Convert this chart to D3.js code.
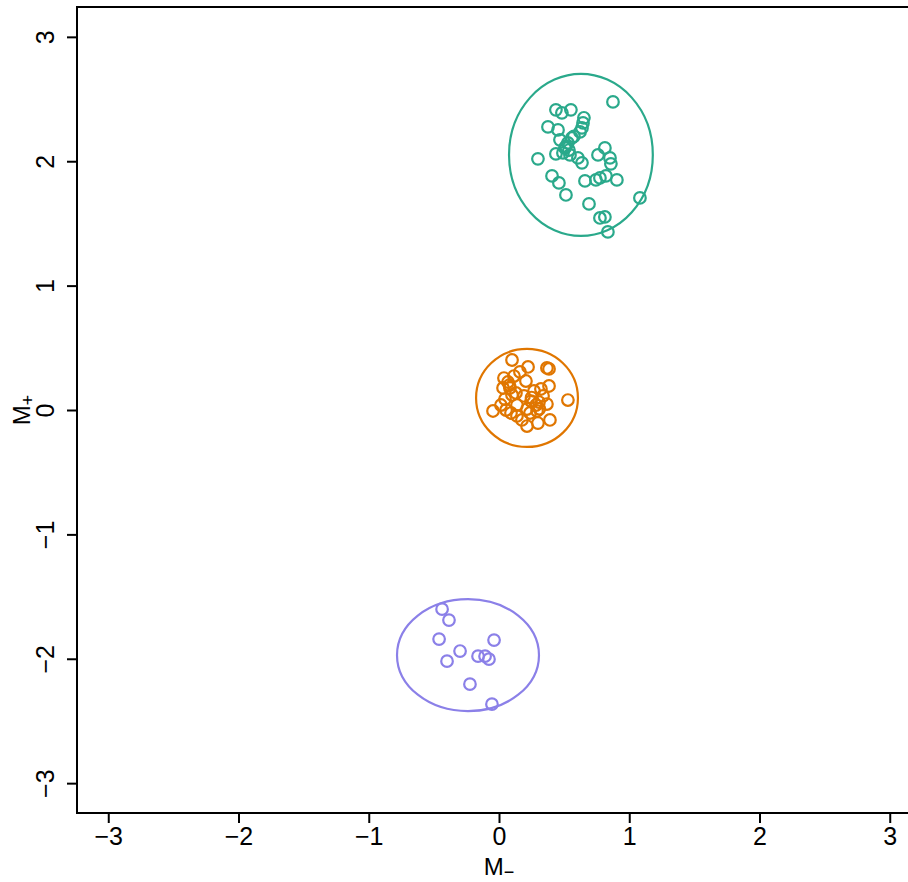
<!DOCTYPE html>
<html>
<head>
<meta charset="utf-8">
<script src="https://cdn.jsdelivr.net/npm/d3@7/dist/d3.min.js"></script>
<style>
  html, body { margin: 0; padding: 0; background: #fff; }
  svg { display: block; }
  text { font-family: "Liberation Sans", Arial, Helvetica, sans-serif; }
</style>
</head>
<body>
<svg id="chart" width="908" height="882"></svg>
<script>
// Tick values on both axes
const xTicks = [-3, -2, -1, 0, 1, 2, 3];
const yTicks = [-3, -2, -1, 0, 1, 2, 3];

// Group colours
const groupColors = ["#2aa98b", "#e07600", "#8b80e8"];

// Points per group: [M-, M+]
const groupA = [
  [0.875, 2.477], [0.437, 2.413], [0.552, 2.413], [0.483, 2.389], [0.376, 2.276],
  [0.453, 2.252], [0.652, 2.349], [0.645, 2.308], [0.637, 2.268], [0.622, 2.236],
  [0.560, 2.188], [0.529, 2.148], [0.468, 2.172], [0.506, 2.107], [0.491, 2.067],
  [0.545, 2.051], [0.437, 2.059], [0.299, 2.019], [0.606, 2.027], [0.637, 1.987],
  [0.760, 2.051], [0.813, 2.107], [0.852, 2.027], [0.859, 1.979], [0.821, 1.882],
  [0.775, 1.866], [0.744, 1.850], [0.905, 1.850], [0.660, 1.842], [0.460, 1.826],
  [0.407, 1.882], [0.514, 1.729], [0.691, 1.657], [1.082, 1.705], [0.813, 1.552],
  [0.775, 1.544], [0.836, 1.432], [0.514, 2.120], [0.537, 2.090], [0.575, 2.200]
];
const groupB = [
  [0.100, 0.402], [0.368, 0.338], [0.384, 0.330], [0.223, 0.346], [0.161, 0.306],
  [0.115, 0.273], [0.038, 0.257], [0.207, 0.233], [0.069, 0.225], [0.031, 0.177],
  [0.084, 0.177], [0.130, 0.137], [0.384, 0.193], [0.322, 0.169], [0.269, 0.153],
  [0.338, 0.113], [0.046, 0.088], [0.246, 0.072], [0.307, 0.064], [0.368, 0.048],
  [0.529, 0.080], [-0.046, -0.008], [0.054, 0.000], [0.092, -0.024], [0.138, -0.048],
  [0.215, 0.008], [0.238, -0.024], [0.292, -0.008], [0.176, -0.080], [0.215, -0.129],
  [0.299, -0.105], [0.391, -0.080], [0.015, 0.040], [0.138, 0.040], [0.284, 0.040],
  [0.192, 0.113], [0.100, 0.121], [0.250, 0.100], [0.080, 0.200], [0.310, 0.010]
];
const groupC = [
  [-0.437, -1.601], [-0.384, -1.689], [-0.460, -1.842], [-0.038, -1.850],
  [-0.299, -1.938], [-0.399, -2.019], [-0.161, -1.979], [-0.107, -1.979],
  [-0.077, -2.003], [-0.223, -2.204], [-0.054, -2.365]
];

// Enclosing ellipses: [centre x, centre y, radius x, radius y] in data units
const ellipses = [
  [0.629, 2.051, 0.552, 0.651],
  [0.215, 0.097, 0.391, 0.394],
  [-0.238, -1.971, 0.545, 0.450]
];

const groups = [groupA, groupB, groupC];

const svg = d3.select("#chart");
const plotLeft = 77, plotRight = 921, plotTop = 7, plotBottom = 813;

const x = d3.scaleLinear().domain([-3.24, 3.24]).range([plotLeft, plotRight]);
const y = d3.scaleLinear().domain([-3.24, 3.24]).range([plotBottom, plotTop]);

const fmt = d => d < 0 ? "\u2212" + Math.abs(d) : String(d);
const FONT = "'Liberation Sans', Arial, Helvetica, sans-serif";

// Ellipses
svg.append("g").selectAll("ellipse")
  .data(ellipses)
  .join("ellipse")
  .attr("cx", d => x(d[0]))
  .attr("cy", d => y(d[1]))
  .attr("rx", d => x(d[0] + d[2]) - x(d[0]))
  .attr("ry", d => y(d[1]) - y(d[1] + d[3]))
  .attr("fill", "none")
  .attr("stroke", (d, i) => groupColors[i])
  .attr("stroke-width", 2.2);

// Points
groups.forEach((pts, i) => {
  svg.append("g").selectAll("circle")
    .data(pts)
    .join("circle")
    .attr("cx", d => x(d[0]))
    .attr("cy", d => y(d[1]))
    .attr("r", 5.8)
    .attr("fill", "none")
    .attr("stroke", groupColors[i])
    .attr("stroke-width", 2.2);
});

// Axes
const xAxis = d3.axisBottom(x).tickValues(xTicks).tickSize(10).tickPadding(4).tickFormat(fmt);
const yAxis = d3.axisLeft(y).tickValues(yTicks).tickSize(10).tickPadding(6).tickFormat(fmt);

const gx = svg.append("g").attr("transform", `translate(0,${plotBottom})`).call(xAxis);
gx.attr("font-size", null).attr("font-family", null);
gx.select(".domain").remove();
gx.selectAll("line").attr("stroke", "#000").attr("stroke-width", 2);
gx.selectAll("text").attr("fill", "#000")
  .style("font-size", "25px").style("font-family", FONT);

const gy = svg.append("g").attr("transform", `translate(${plotLeft},0)`).call(yAxis);
gy.attr("font-size", null).attr("font-family", null);
gy.select(".domain").remove();
gy.selectAll("line").attr("stroke", "#000").attr("stroke-width", 2);
gy.selectAll("text")
  .attr("fill", "#000")
  .style("font-size", "25px").style("font-family", FONT)
  .attr("text-anchor", "middle")
  .attr("dy", null)
  .attr("x", null)
  .attr("y", 0)
  .attr("transform", "translate(-23,0) rotate(-90)");

// Frame
svg.append("rect")
  .attr("x", plotLeft).attr("y", plotTop)
  .attr("width", plotRight - plotLeft).attr("height", plotBottom - plotTop)
  .attr("fill", "none").attr("stroke", "#000").attr("stroke-width", 2);

// Axis titles
const xt = svg.append("text")
  .attr("x", x(0)).attr("y", 875)
  .attr("text-anchor", "middle").attr("fill", "#000")
  .style("font-size", "24px").style("font-family", FONT);
xt.append("tspan").text("M");
xt.append("tspan").attr("dy", 3).style("font-size", "18px").text("\u2212");

const yt = svg.append("text")
  .attr("transform", `translate(30,${y(0)}) rotate(-90)`)
  .attr("text-anchor", "middle").attr("fill", "#000")
  .style("font-size", "24px").style("font-family", FONT);
yt.append("tspan").text("M");
yt.append("tspan").attr("dy", 4).style("font-size", "18px").text("+");
</script>
</body>
</html>
